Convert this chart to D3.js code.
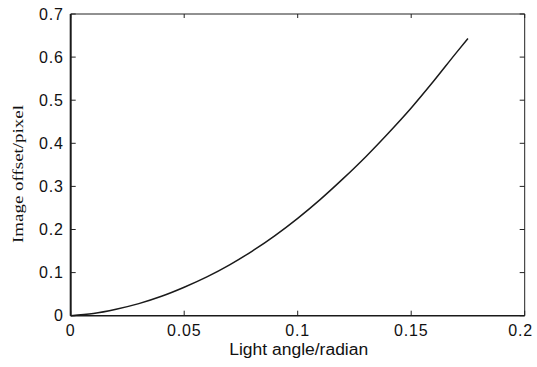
<!DOCTYPE html>
<html>
<head>
<meta charset="utf-8">
<script src="https://cdn.jsdelivr.net/npm/d3@7"></script>
<style>
    body { margin: 0; background: #fff; }
    .tick-label { font-family: "Liberation Sans", Arial, sans-serif; font-size: 16px; fill: #111; letter-spacing: 0.8px; }
</style>
</head>
<body>
<div id="chart"></div>
<script>
// values
let angle  = [0, 0.01, 0.02, 0.03, 0.04, 0.05, 0.06, 0.07, 0.08, 0.09, 0.10, 0.11, 0.12, 0.13, 0.14, 0.15, 0.16, 0.17, 0.175];
let offset = [0, 0.005, 0.015, 0.028, 0.045, 0.066, 0.090, 0.118, 0.150, 0.186, 0.226, 0.270, 0.318, 0.369, 0.424, 0.482, 0.545, 0.611, 0.643];
let xTicks = [0, 0.05, 0.1, 0.15, 0.2];
let yTicks = [0, 0.1, 0.2, 0.3, 0.4, 0.5, 0.6, 0.7];
let xTitle = "Light angle/radian";
let yTitle = "Image offset/pixel";

let margin = {top: 14, right: 12.3, bottom: 51.3, left: 70.7};
let width = 537 - margin.left - margin.right;
let height = 367 - margin.top - margin.bottom;

let svg = d3.select("#chart").append("svg")
    .attr("width", 537)
    .attr("height", 367)
    .append("g")
    .attr("transform", "translate(" + margin.left + "," + margin.top + ")");

let x = d3.scaleLinear().domain([0, 0.2]).range([0, width]);
let y = d3.scaleLinear().domain([0, 0.7]).range([height, 0]);

let data = angle.map((a, i) => ({a: a, v: offset[i]}));

// frame
svg.append("line").attr("x1", 0).attr("x2", width).attr("y1", 0).attr("y2", 0)
    .attr("stroke", "#222").attr("stroke-width", 1);
svg.append("line").attr("x1", width).attr("x2", width).attr("y1", 0).attr("y2", height)
    .attr("stroke", "#222").attr("stroke-width", 1);

// inward ticks on all four sides
let tickLen = 5;
svg.selectAll(".xt-b").data(xTicks).enter().append("line")
    .attr("x1", d => x(d)).attr("x2", d => x(d))
    .attr("y1", height).attr("y2", height - tickLen)
    .attr("stroke", "#222").attr("stroke-width", 1);
svg.selectAll(".xt-t").data(xTicks).enter().append("line")
    .attr("x1", d => x(d)).attr("x2", d => x(d))
    .attr("y1", 0).attr("y2", tickLen - 1)
    .attr("stroke", "#222").attr("stroke-width", 1);
svg.selectAll(".yt-l").data(yTicks).enter().append("line")
    .attr("x1", 0).attr("x2", tickLen)
    .attr("y1", d => y(d)).attr("y2", d => y(d))
    .attr("stroke", "#222").attr("stroke-width", 1);
svg.selectAll(".yt-r").data(yTicks).enter().append("line")
    .attr("x1", width).attr("x2", width - tickLen)
    .attr("y1", d => y(d)).attr("y2", d => y(d))
    .attr("stroke", "#222").attr("stroke-width", 1);

// left and bottom axis lines (drawn heavier)
svg.append("line").attr("x1", 0).attr("x2", 0).attr("y1", 0).attr("y2", height)
    .attr("stroke", "#1a1a1a").attr("stroke-width", 2);
svg.append("line").attr("x1", 0).attr("x2", width).attr("y1", height).attr("y2", height)
    .attr("stroke", "#1a1a1a").attr("stroke-width", 1.6);

// tick labels
svg.selectAll(".xl").data(xTicks).enter().append("text")
    .attr("class", "tick-label")
    .attr("x", (d, i) => x(d) + (i == xTicks.length - 1 ? -4 : 0))
    .attr("y", height + 20)
    .attr("text-anchor", "middle")
    .text(d => d);

svg.selectAll(".yl").data(yTicks).enter().append("text")
    .attr("class", "tick-label")
    .attr("x", -7)
    .attr("y", d => y(d))
    .attr("dy", "0.36em")
    .attr("text-anchor", "end")
    .text(d => d);

// axis titles
svg.append("text")
    .attr("x", width / 2 + 1)
    .attr("y", height + 39.5)
    .attr("text-anchor", "middle")
    .attr("textLength", 139)
    .attr("lengthAdjust", "spacingAndGlyphs")
    .style("font-family", "'Liberation Sans', Arial, sans-serif")
    .style("font-size", "16px")
    .style("fill", "#111")
    .text(xTitle);

svg.append("text")
    .attr("transform", "translate(" + (22.7 - margin.left) + "," + (174 - margin.top) + ") rotate(-90)")
    .attr("text-anchor", "middle")
    .attr("textLength", 138)
    .attr("lengthAdjust", "spacingAndGlyphs")
    .style("font-family", "'Liberation Serif', 'Times New Roman', serif")
    .style("font-size", "14px")
    .style("fill", "#111")
    .text(yTitle);

// curve
let line = d3.line()
    .x(d => x(d.a))
    .y(d => y(d.v))
    .curve(d3.curveMonotoneX);

svg.append("path")
    .datum(data)
    .attr("fill", "none")
    .attr("stroke", "#1a1a1a")
    .attr("stroke-width", 1.5)
    .attr("d", line);
</script>
</body>
</html>
